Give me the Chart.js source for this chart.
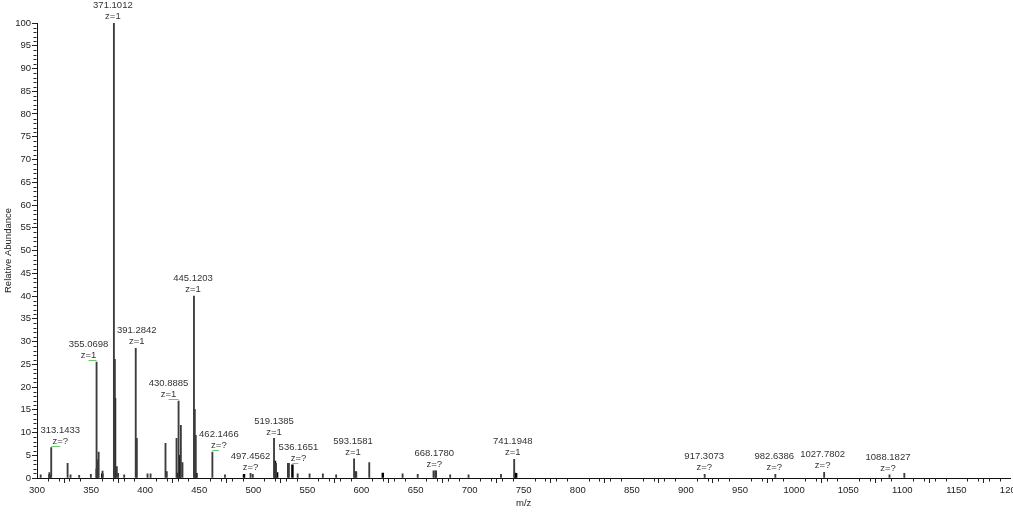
<!DOCTYPE html>
<html><head><meta charset="utf-8">
<script src="https://cdn.jsdelivr.net/npm/chart.js@4/dist/chart.umd.min.js"></script>
<style>
html,body{margin:0;padding:0;background:#fff;overflow:hidden;width:1013px;height:512px}
#wrap{position:absolute;left:0;top:0;width:1023px;height:512px}
</style></head><body>
<div id="wrap"><canvas id="c"></canvas></div>
<script>
// profile peaks (m/z, relative abundance)
const greyMz  = [303.4, 311.4, 313.1433, 328.3, 331.0, 339.0, 349.8, 355.0698, 355.7, 357.0, 360.6,
  371.1012, 372.0, 373.8, 375.0, 380.6, 391.2842, 392.3, 402.2, 405.0, 418.8, 420.0, 429.0, 430.8885,
  433.0, 434.5, 445.1203, 445.9, 446.8, 462.1466, 473.8, 497.4562, 499.5, 519.1385, 521.0, 532.0, 532.9,
  541.0, 552.0, 564.3, 576.6, 593.1581, 594.3, 595.2, 607.2, 638.0, 652.0, 666.6, 668.1780, 669.0,
  682.0, 699.0, 729.0, 741.1948, 917.3073, 982.6386, 1027.7802, 1088.1827, 1101.9];
const greyInt = [0.7, 1.2, 6.7, 3.2, 0.7, 0.6, 0.8, 25.5, 4.0, 5.7, 1.5,
  100, 26.1, 2.5, 1.0, 0.7, 28.5, 8.7, 0.9, 0.9, 7.6, 1.4, 8.7, 16.9,
  11.6, 3.4, 40, 15.1, 9.4, 5.7, 0.7, 1.0, 0.8, 8.7, 3.2, 3.2, 3.2,
  0.9, 0.9, 0.9, 0.7, 4.2, 1.4, 1.4, 3.4, 0.9, 0.8, 1.6, 1.6, 1.6,
  0.7, 0.7, 0.8, 4.1, 0.8, 0.8, 1.25, 0.7, 1.0];
// centroid peaks drawn in black
const blackMz  = [311.6, 355.3, 360.3, 372.1, 430.3, 431.9, 447.4, 491.4, 520.0, 522.0, 536.1651, 619.7, 742.0, 743.0];
const blackInt = [0.7, 2.0, 0.9, 17.5, 1.1, 5.0, 1.0, 0.8, 3.7, 1.2, 2.9, 1.1, 1.1, 1.0];
// annotated peaks
const labelMz = [313.1433, 355.0698, 371.1012, 391.2842, 430.8885, 445.1203, 462.1466, 497.4562, 519.1385,
  536.1651, 593.1581, 668.1780, 741.1948, 917.3073, 982.6386, 1027.7802, 1088.1827];
const labelZ  = ['?', '1', '1', '1', '1', '1', '?', '?', '1', '?', '1', '?', '1', '?', '?', '?', '?'];
const labelDx = [9, -8, -1, 1, -10, -1, 6.5, 0, 0, 6, -1, -1, -1.5, -0.5, -1, -1.5, -1.5];
const xMajor = 50, xMinor = 10, yMajor = 5, yMinor = 1;

const FONT = "'Liberation Sans', Arial, sans-serif";
const pts = (m, v) => m.map((x, i) => ({x, y: v[i]}));
const allMz = greyMz.concat(blackMz), allInt = greyInt.concat(blackInt);
function peakHeight(mz) {
  let best = 0, bd = 1e9;
  allMz.forEach((m, i) => { const d = Math.abs(m - mz); if (d < bd) { bd = d; best = i; } });
  return allInt[best];
}

const annot = {
  id: 'annot',
  afterDraw(chart) {
    const {ctx, scales: {x, y}} = chart;
    ctx.save();
    ctx.strokeStyle = '#222'; ctx.lineWidth = 1;
    const yb = Math.round(y.getPixelForValue(0)) + 0.5;
    ctx.beginPath();
    for (let v = x.min; v <= x.max; v += xMinor) {
      if (v % xMajor === 0) continue;
      const px = Math.round(x.getPixelForValue(v)) + 0.5;
      ctx.moveTo(px, yb); ctx.lineTo(px, yb + 3);
    }
    const xl = Math.round(x.getPixelForValue(x.min)) - 0.5;
    for (let v = y.min; v <= y.max; v += yMinor) {
      if (v % yMajor === 0) continue;
      const py = Math.round(y.getPixelForValue(v)) + 0.5;
      ctx.moveTo(xl, py); ctx.lineTo(xl - 3, py);
    }
    ctx.stroke();
    ctx.font = '9.5px ' + FONT; ctx.fillStyle = '#333';
    ctx.textAlign = 'center'; ctx.textBaseline = 'middle';
    labelMz.forEach((m, i) => {
      const px = x.getPixelForValue(m);
      const top = y.getPixelForValue(peakHeight(m));
      const cx = px + labelDx[i];
      ctx.fillText(m.toFixed(4), cx, top - 17.5);
      ctx.fillText('z=' + labelZ[i], cx, top - 6.5);
      if (Math.abs(labelDx[i]) > 2) {
        ctx.strokeStyle = '#66cc66';
        ctx.beginPath();
        ctx.moveTo(px, Math.round(top) - 1.5); ctx.lineTo(cx, Math.round(top) - 1.5);
        ctx.stroke();
      }
    });
    ctx.restore();
  }
};

new Chart(document.getElementById('c'), {
  type: 'bar',
  data: {datasets: [
    {label: 'profile', data: pts(greyMz, greyInt), backgroundColor: '#3c3c3c', barThickness: 1.2, grouped: false},
    {label: 'centroid', data: pts(blackMz, blackInt), backgroundColor: '#000', barThickness: 1.8, grouped: false}
  ]},
  options: {
    animation: false, responsive: true, maintainAspectRatio: false,
    layout: {padding: {top: 23, left: 0, right: 0, bottom: 0}},
    plugins: {legend: {display: false}, tooltip: {enabled: false}},
    scales: {
      x: {type: 'linear', min: 300, max: 1200, offset: false,
        grid: {drawOnChartArea: false, drawTicks: true, tickLength: 5, color: '#222'},
        border: {display: true, color: '#111', width: 1},
        ticks: {stepSize: xMajor, autoSkip: false, maxRotation: 0, maxTicksLimit: 1000,
          font: {size: 9.5, family: FONT}, color: '#222', padding: 2, callback: v => String(v)},
        title: {display: true, text: 'm/z', font: {size: 9.5, family: FONT}, color: '#222', padding: {top: 0, bottom: 3}},
        afterFit(s) { s.height = 34; }
      },
      y: {min: 0, max: 100, beginAtZero: true,
        grid: {drawOnChartArea: false, drawTicks: true, tickLength: 5, color: '#222'},
        border: {display: true, color: '#111', width: 1},
        ticks: {stepSize: yMajor, autoSkip: false, maxTicksLimit: 1000,
          font: {size: 9.5, family: FONT}, color: '#222', padding: 1, callback: v => String(v)},
        title: {display: true, text: 'Relative Abundance', font: {size: 9.5, family: FONT}, color: '#222', padding: {top: 3, bottom: 0}},
        afterFit(s) { s.width = 37; }
      }
    }
  },
  plugins: [annot]
});
</script>
</body></html>
